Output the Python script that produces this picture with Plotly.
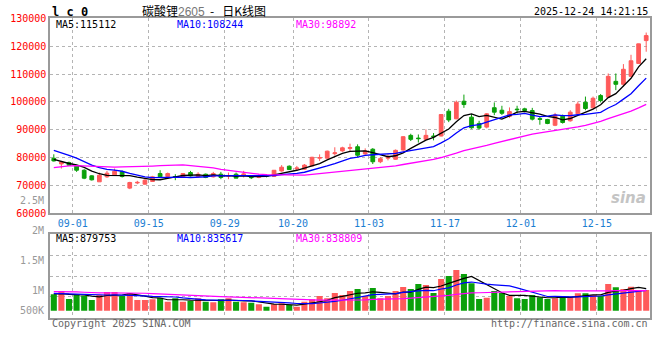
import numpy as np
import pandas as pd
import plotly.graph_objects as go

# ---------------- data ----------------
holidays = ["2025-10-01", "2025-10-02", "2025-10-03", "2025-10-06", "2025-10-07", "2025-10-08"]
trade_days = [d for d in pd.bdate_range("2025-08-28", "2025-12-24")
              if d.strftime("%Y-%m-%d") not in holidays]
dates = [d.strftime("%m-%d") for d in trade_days]
tick_dates = ["09-01", "09-15", "09-29", "10-20", "11-03", "11-17", "12-01", "12-15"]

opens = [79750, 77730, 78200, 77010, 75460, 73440, 71300, 73090, 73800, 74990,
         69040, 70900, 70460, 71420, 74270, 73200, 73200, 72850, 74630, 73200,
         74030, 73090, 74030, 73350, 74050, 73800, 73000, 72850, 73600, 73200,
         75200, 76900, 75950, 75830, 77000, 79800, 79800, 81400, 82400, 83300,
         83900, 81300, 83000, 78500, 79800, 79400, 82700, 87960, 87000, 86550,
         87750, 87750, 96660, 93920, 100230, 94510, 92260, 90940, 97900, 97000,
         94800, 97400, 97500, 96900, 94000, 93680, 91600, 94870, 93200, 95700,
         99870, 97850, 102250, 101700, 107370, 106300, 109160, 113800, 122000]
highs = [81180, 78800, 78560, 77250, 75820, 73680, 74630, 75230, 76060, 75350,
         71300, 71650, 72250, 73440, 75470, 74630, 74030, 74400, 75230, 74750,
         74270, 74870, 74870, 74630, 74630, 75240, 73300, 74000, 74000, 75500,
         77300, 77200, 77000, 77700, 80300, 81150, 82500, 83700, 83900, 85000,
         84750, 83300, 83400, 80200, 81200, 82900, 87700, 88560, 88300, 90110,
         88800, 95600, 97490, 100470, 102610, 95600, 93200, 96000, 99800, 98600,
         98000, 98600, 97900, 97850, 94880, 93900, 96060, 95450, 97000, 100100,
         101900, 101900, 102800, 110200, 110200, 113560, 116900, 120900, 124880]
lows = [78600, 76060, 77000, 74870, 72250, 71770, 71300, 72730, 73440, 72850,
        68680, 70460, 70230, 71300, 72610, 73000, 71890, 72700, 73200, 72850,
        72610, 72850, 72250, 72250, 72600, 72860, 72300, 72600, 72900, 73100,
        74950, 75500, 75300, 75600, 76900, 78800, 79600, 80700, 82100, 82400,
        80200, 81000, 77700, 78000, 79000, 79200, 82500, 85940, 85400, 86300,
        86190, 87600, 92730, 93800, 97850, 90340, 90000, 90500, 95230, 95300,
        94300, 95830, 96300, 93320, 91800, 92000, 91300, 92200, 92900, 95500,
        97000, 97600, 99800, 101400, 104200, 105500, 109000, 113700, 118000]
closes = [78800, 78440, 77250, 75460, 72600, 72010, 73680, 74400, 75110, 73200,
          71060, 71100, 71890, 73090, 73090, 74270, 73100, 74270, 73440, 74030,
          72850, 74270, 72850, 73550, 72620, 74100, 72800, 73300, 73300, 75450,
          76550, 75700, 76250, 77300, 80100, 80000, 82300, 81700, 83500, 83600,
          80850, 82400, 78500, 79600, 80200, 82600, 87500, 86540, 86800, 87980,
          87500, 95460, 93500, 99870, 99040, 90700, 90600, 95700, 96300, 95900,
          96500, 97200, 96900, 93800, 93700, 92250, 95300, 92600, 96300, 99200,
          97610, 101300, 100470, 109160, 106300, 111700, 114760, 120830, 123800]
volumes = [801, 863, 715, 789, 777, 697, 789, 844, 844, 771,
           826, 697, 697, 709, 740, 666, 728, 666, 679, 728,
           666, 654, 709, 728, 666, 654, 648, 617, 574, 617,
           636, 605, 574, 666, 709, 771, 728, 826, 789, 863,
           899, 771, 918, 728, 771, 863, 936, 899, 991, 973,
           826, 1083, 1139, 1249, 1175, 1004, 715, 740, 863, 826,
           771, 728, 715, 789, 746, 715, 728, 771, 758, 820,
           820, 789, 771, 991, 930, 899, 942, 881, 881]  # thousands
# closes / volumes of the 29 sessions before the window (needed for the moving averages)
prior_closes = [68000, 70000, 72500, 75000, 77000, 79000, 78500, 73500, 71000, 70500,
                70000, 68500, 69000, 69500, 70000, 71500, 72000, 79500, 82000, 79000,
                86000, 87500, 85500, 84500, 85500, 82500, 80800, 78000, 76900]
prior_volumes = [780, 820, 900, 950, 1000, 880, 840, 800, 760, 780,
                 820, 860, 900, 950, 1020, 940, 880, 820, 780, 820,
                 860, 820, 840, 820, 824, 820, 800, 810, 804]

price_ticks = [60000, 70000, 80000, 90000, 100000, 110000, 120000, 130000]
ma_price_text = [("MA5:115112", "#000000"), ("MA10:108244", "#0000ff"), ("MA30:98892", "#ff00ff")]
ma_vol_text = [("MA5:879753", "#000000"), ("MA10:835617", "#0000ff"), ("MA30:838809", "#ff00ff")]
vol_axis_text = ["2.5M", "2M", "1.5M", "1M", "500K"]

# ---------------- derived ----------------
n = len(dates)
x = np.arange(n)
cs = pd.Series(prior_closes + closes, dtype=float)
vs = pd.Series(prior_volumes + volumes, dtype=float) * 1000
ma = {k: cs.rolling(k).mean().iloc[-n:].to_numpy() for k in (5, 10, 30)}
vma = {k: vs.rolling(k).mean().iloc[-n:].to_numpy() for k in (5, 10, 30)}
vol = np.array(volumes, dtype=float) * 1000

RED = "#ff5a5a"
GREEN = "#0aa00a"
MONO = "DejaVu Sans Mono"
up = [c >= o for o, c in zip(opens, closes)]
bar_colors = [RED if u else GREEN for u in up]
tickvals = [dates.index(t) + 0.5 for t in tick_dates]

VOL_BASE = 500000
VOL_RANGE = [371000, 1906000]

fig = go.Figure()
fig.add_trace(go.Candlestick(
    x=x, open=opens, high=highs, low=lows, close=closes,
    increasing=dict(line=dict(color=RED, width=1), fillcolor=RED),
    decreasing=dict(line=dict(color=GREEN, width=1), fillcolor=GREEN),
    whiskerwidth=0, xaxis="x", yaxis="y", hoverinfo="skip"))
for k, col in ((5, "#000000"), (10, "#0000ff"), (30, "#ff00ff")):
    fig.add_trace(go.Scatter(x=x, y=ma[k], mode="lines", line=dict(color=col, width=1.3),
                             xaxis="x", yaxis="y", hoverinfo="skip"))

fig.add_trace(go.Bar(x=x, y=vol - VOL_BASE, base=VOL_BASE, marker=dict(color=bar_colors, line=dict(width=0)),
                     xaxis="x2", yaxis="y2", hoverinfo="skip"))
for k, col in ((5, "#000000"), (10, "#0000ff"), (30, "#ff00ff")):
    fig.add_trace(go.Scatter(x=x, y=vma[k], mode="lines", line=dict(color=col, width=1.2),
                             xaxis="x2", yaxis="y2", hoverinfo="skip"))

W, H = 660, 360
L, R = 50, 650
def px(xp):
    return (xp - L) / (R - L)
def py(yp):
    return (H - yp) / H

MAIN_TOP, MAIN_BOT = 18.3, 213.3
VOL_TOP, VOL_BOT = 234.3, 317.7
GRID = "#b4b4b4"
FRAME = "#9a9a9a"

common_x = dict(range=[-0.5, n - 0.5], tickmode="array", tickvals=tickvals,
                showgrid=True, gridcolor=GRID, griddash="dot", gridwidth=1,
                showline=True, mirror=True, linecolor=FRAME, linewidth=1.5,
                zeroline=False, ticks="", fixedrange=True, automargin=False)

fig.update_layout(
    width=W, height=H,
    margin=dict(l=L, r=W - R, t=0, b=0, autoexpand=False),
    paper_bgcolor="white", plot_bgcolor="white",
    showlegend=False, bargap=0.2,
    xaxis=dict(common_x, domain=[0, 1], anchor="y", ticktext=tick_dates,
               tickfont=dict(family=MONO, size=10, color="#1a7ed2"),
               rangeslider=dict(visible=False)),
    yaxis=dict(domain=[py(MAIN_BOT), py(MAIN_TOP)], range=[60000, 130000],
               tickmode="array", tickvals=price_ticks, ticktext=[str(v) for v in price_ticks],
               tickfont=dict(family=MONO, size=10, color="#ff0000"),
               showgrid=True, gridcolor=GRID, griddash="dot", gridwidth=1,
               showline=True, mirror=True, linecolor=FRAME, linewidth=1.5,
               zeroline=False, ticks="", fixedrange=True, automargin=False),
    xaxis2=dict(common_x, domain=[0, 1], anchor="y2", matches="x", showticklabels=False,
                rangeslider=dict(visible=False)),
    yaxis2=dict(domain=[py(VOL_BOT), py(VOL_TOP)], range=VOL_RANGE,
                tickmode="array",
                tickvals=[VOL_RANGE[0] + q * (VOL_RANGE[1] - VOL_RANGE[0]) / 4 for q in (1, 2, 3)],
                showticklabels=False,
                showgrid=True, gridcolor=GRID, griddash="dot", gridwidth=1,
                showline=True, mirror=True, linecolor=FRAME, linewidth=1.5,
                zeroline=False, ticks="", fixedrange=True, automargin=False),
)

anns = []
def ann(text, xp, yp, anchor="left", color="#000", size=10, family=MONO, **kw):
    anns.append(dict(text=text, x=px(xp), y=py(yp), xref="paper", yref="paper",
                     xanchor=anchor, yanchor="middle", showarrow=False,
                     font=dict(family=family, size=size, color=color), **kw))

# header
ann("<b>l c 0</b>", 50, 11.5, size=12)
ann("碳酸锂<span style='font-family:Liberation Sans;color:#777'>2605</span>&nbsp;&nbsp;-&nbsp;&nbsp;&nbsp;日K线图",
    140, 10.5, size=12, family="Noto Sans CJK SC")
ann("2025-12-24 14:21:15", 650, 11.7, anchor="right", size=10)
# MA labels
for (t, c), xp in zip(ma_price_text, (54, 175, 294)):
    ann(t, xp, 24.5, color=c)
for (t, c), xp in zip(ma_vol_text, (54, 175, 294)):
    ann(t, xp, 238.5, color=c)
# volume axis labels
for t, yp in zip(vol_axis_text, (200.7, 230.7, 260.7, 290.3, 310.0)):
    ann(t, 46, yp, anchor="right", color="#999999", size=10)
# footer
ann("Copyright 2025 SINA.COM", 50, 323.5, color="#666666", size=10)
ann("http://finance.sina.com.cn", 650, 323.5, anchor="right", color="#666666", size=10)
# watermark
ann("<b><i>sina</i></b>", 648, 198, anchor="right", color="#c4c4c4", size=15, family="DejaVu Sans")
fig.update_layout(annotations=anns)

fig.write_html("out.html", config={"displayModeBar": False},
               post_script="document.body.style.margin='0px';")
